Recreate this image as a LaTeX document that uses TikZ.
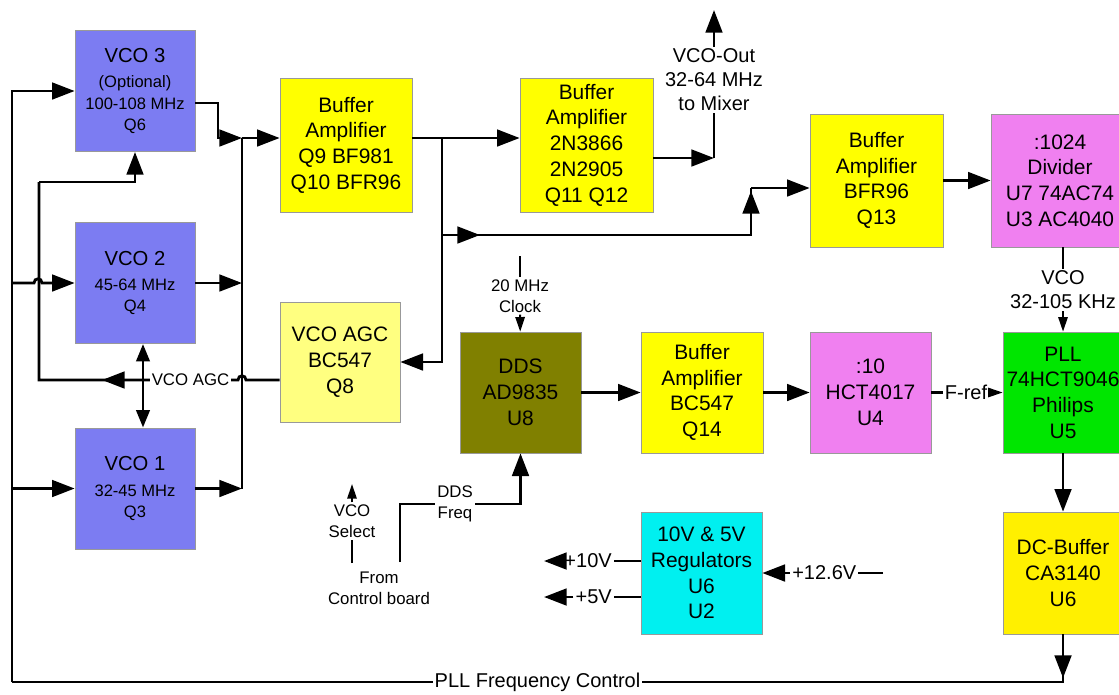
\documentclass[tikz,border=0pt]{standalone}
\usepackage{fontspec}
\setmainfont{Liberation Sans}
\usetikzlibrary{positioning,arrows.meta,calc}
\definecolor{vcoblue}{RGB}{124,124,242}
\definecolor{bufyel}{RGB}{255,255,0}
\definecolor{dcyel}{RGB}{255,240,0}
\definecolor{agcyel}{RGB}{255,255,128}
\definecolor{ddsolive}{RGB}{128,128,0}
\definecolor{divpink}{RGB}{240,128,240}
\definecolor{pllgreen}{RGB}{0,230,0}
\definecolor{regcyan}{RGB}{0,240,240}

\begin{document}
\begin{tikzpicture}[x=0.75pt,y=-0.75pt,
 bx/.style={draw=black!40,line width=0.5pt,align=center,inner sep=0pt,font=\fontsize{15.7}{19.3}\selectfont},
 vco/.style={bx,fill=vcoblue,minimum width=90pt,minimum height=91pt,font=\fontsize{12.4}{16}\selectfont},
 lb/.style={align=center,inner sep=1.5pt,font=\fontsize{15}{18}\selectfont},
 sl/.style={lb,font=\fontsize{12.6}{15.6}\selectfont},
 ln/.style={line width=2.1pt},
 a/.style={ln,-{Triangle[length=17pt,width=12.5pt]}},
 aa/.style={ln,{Triangle[length=13pt,width=10pt]}-{Triangle[length=13pt,width=10pt]}},
 sa/.style={line width=1.5pt,-{Triangle[length=11pt,width=7pt]}}]
\clip (0,0) rectangle (1119,694);
% VCO bank
\node[vco] (vco3) at (135,91) {{\fontsize{15.2}{19}\selectfont VCO 3}\\[3pt](Optional)\\100-108 MHz\\Q6};
\node[vco] (vco2) at (135,283) {{\fontsize{15.2}{19}\selectfont VCO 2}\\[3pt]45-64 MHz\\Q4};
\node[vco] (vco1) at (135,488.5) {{\fontsize{15.2}{19}\selectfont VCO 1}\\[3pt]32-45 MHz\\Q3};
% upper chain
\node[bx,fill=bufyel,minimum width=99pt,minimum height=100.5pt] (bufa) at (346,145) {Buffer\\Amplifier\\Q9 BF981\\Q10 BFR96};
\node[bx,fill=bufyel,minimum width=99.75pt,minimum height=100.5pt] (bufb) at (586.5,145) {Buffer\\Amplifier\\2N3866\\2N2905\\Q11 Q12};
\node[bx,fill=bufyel,minimum width=99.75pt,minimum height=99.75pt] (bufc) at (876.5,180.5) {Buffer\\Amplifier\\BFR96\\Q13};
\node[bx,fill=divpink,minimum width=103.5pt,minimum height=99.75pt] (div) at (1060,180.5) {:1024\\Divider\\U7 74AC74\\U3 AC4040};
% lower chain
\node[bx,fill=agcyel,minimum width=90pt,minimum height=90pt] (agc) at (340,362) {VCO AGC\\BC547\\Q8};
\node[bx,fill=ddsolive,minimum width=90.75pt,minimum height=90.75pt] (dds) at (520.5,392.5) {DDS\\AD9835\\U8};
\node[bx,fill=bufyel,minimum width=91.5pt,minimum height=90.75pt] (bufd) at (702,392.5) {Buffer\\Amplifier\\BC547\\Q14};
\node[bx,fill=divpink,minimum width=90.75pt,minimum height=90.75pt] (div10) at (870.5,392.5) {:10\\HCT4017\\U4};
\node[bx,fill=pllgreen,minimum width=90pt,minimum height=90.75pt] (pll) at (1063,392.5) {PLL\\74HCT9046\\Philips\\U5};
\node[bx,fill=dcyel,minimum width=90pt,minimum height=91.5pt] (dcbuf) at (1063,573) {DC-Buffer\\CA3140\\U6};
\node[bx,fill=regcyan,minimum width=90.75pt,minimum height=91.5pt] (reg) at (701.5,573) {10V \& 5V\\Regulators\\U6\\U2};
% loop back to the VCOs
\coordinate (lpR) at (1063,682);
\coordinate (lpL) at (12,682);
\draw[ln] (dcbuf.south) -- (lpR) -- node[lb,fill=white]{PLL Frequency Control} (lpL);
\draw[a] (dcbuf.south) -- ($(lpR)+(0,-4)$);
\draw[a] (lpL) |- (vco3.west);
\draw[a] (lpL |- vco2.west) -- (34,283) .. controls (34,277.4) and (42,277.4) .. (42,283) -- (vco2.west);
\draw[a] (lpL |- vco1.west) -- (vco1.west);
% AGC control
\coordinate (g1) at (39,182);
\coordinate (g2) at (143,380);
\draw[ln] ($(agc.west)+(0,18)$) -- (246,380) .. controls (246,374.4) and (238,374.4) .. (238,380) -- node[sl,fill=white]{VCO AGC} (g2) -- (39,380) -- (g1);
\draw[a] (g1) -| (vco3.south);
\draw[a] (g2) -- (102,380);
\draw[aa] (vco2.south -| g2) -- (vco1.north -| g2);
% VCO output bus
\coordinate (bt) at (242,138);
\coordinate (bb) at (242,489);
\draw[ln] (bt) -- (bb);
\draw[a] ($(vco3.east)+(0,12)$) -- (218,103) -- (218,138) -- (bt);
\draw[a] (vco2.east) -- (vco2.east -| bt);
\draw[a] (vco1.east) -- (vco1.east -| bt);
\draw[a] (bt) -- ($(bufa.west)+(0,-7)$);
% buffer split
\draw[a] ($(bufa.east)+(0,-7)$) -- ($(bufb.west)+(0,-7)$);
\coordinate (s1) at (442,138);
\coordinate (s2) at (442,235);
\coordinate (s3) at (751,235);
\coordinate (s4) at (751,188);
\draw[a] (s1) |- (agc.east);
\draw[ln] (s2) -- (s3) -- (s4);
\draw[a] (s2) -- (480,235);
\draw[a] (s3) -- (751,191);
\draw[a] (s4) -- (s4 -| bufc.west);
% VCO out
\coordinate (m1) at (714,158);
\coordinate (m2) at (714,10);
\node[lb] (vout) at (714,80) {VCO-Out\\32-64 MHz\\to Mixer};
\draw[a] ($(bufb.east)+(0,13)$) -- (m1);
\draw[ln] (m1) -- (vout);
\draw[a] (vout) -- (m2);
% divider and PLL
\draw[a] (bufc) -- (div);
\node[lb] (vkhz) at (1063,290) {VCO\\32-105 KHz};
\draw[ln] (vkhz |- div.south) -- (vkhz);
\draw[sa] (vkhz) -- (pll);
\coordinate (c0) at (520,256);
\node[sl] (clk) at (520,296) {20 MHz\\Clock};
\draw[line width=1.5pt] (c0) -- (clk);
\draw[sa] (clk) -- (dds);
\draw[a] (dds) -- (bufd);
\draw[a] (bufd) -- (div10);
\node[lb] (fref) at (966,392.5) {F-ref};
\draw[ln] (div10) -- (fref);
\draw[sa] (fref) -- (pll);
\draw[a] (pll) -- (dcbuf);
% control board
\node[sl] (ddsf) at (455,504) {DDS\\Freq};
\coordinate (ctl) at (400,562);
\draw[ln] (ctl) |- (ddsf.west);
\draw[a] (ddsf.east) -| (dds.south);
\node[sl] (vsel) at (352,521) {VCO\\Select};
\coordinate (vs0) at (352,563);
\coordinate (vs1) at (352,484);
\draw[ln] (vs0) -- (vsel);
\draw[sa] (vsel) -- (vs1);
\node[sl] (from) at (379,588) {From\\Control board};
% supply
\node[lb,anchor=east] (p10) at (614,561) {+10V};
\node[lb,anchor=east] (p5) at (614,597) {+5V};
\coordinate (q10) at (544,561);
\coordinate (q5) at (544,597);
\draw[ln] ($(reg.west)+(0,-12)$) -- (p10);
\draw[a] (p10) -- (q10);
\draw[ln] ($(reg.west)+(0,24)$) -- (p5);
\draw[a] (p5) -- (q5);
\node[lb,anchor=west] (p126) at (790,573) {+12.6V};
\coordinate (q126) at (883,573);
\draw[ln] (q126) -- (p126);
\draw[a] (p126) -- (reg);
\end{tikzpicture}
\end{document}
